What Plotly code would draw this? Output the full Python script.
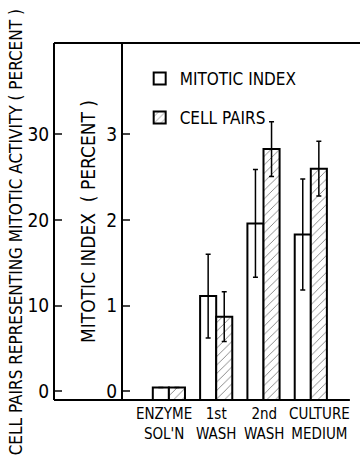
import plotly.graph_objects as go

categories = ["ENZYME SOL'N", "1st WASH", "2nd WASH", "CULTURE MEDIUM"]
label_line1 = ["ENZYME", "1st", "2nd", "CULTURE"]
label_line2 = ["SOL'N", "WASH", "WASH", "MEDIUM"]
mitotic_index = [0.04, 1.11, 1.96, 1.83]          # percent
mitotic_err = [None, 0.49, 0.63, 0.65]
cell_pairs = [0.4, 8.7, 28.3, 26.0]               # percent
cell_pairs_err = [None, 2.9, 3.2, 3.2]
mi_ticks = [0, 1, 2, 3]
cp_ticks = [0, 10, 20, 30]

FONT = "Liberation Sans Narrow, DejaVu Sans Condensed, Arial Narrow, sans-serif"
Y_MIN, Y_MAX = -0.105, 4.07
BAR_W = 0.34
LABEL_NUDGE = {"ENZYME SOL'N": -5, "CULTURE MEDIUM": 9}   # px, label styling only

fig = go.Figure()
fig.add_trace(go.Bar(
    x=categories, y=[v - Y_MIN for v in mitotic_index], base=Y_MIN,
    width=BAR_W, offset=-BAR_W, name="MITOTIC INDEX", legendgroup="a",
    marker=dict(color="white", line=dict(color="black", width=2)),
    error_y=dict(type="data", array=mitotic_err, color="black", thickness=1.5, width=2.5),
    yaxis="y",
))
fig.add_trace(go.Bar(
    x=categories, y=[v - Y_MIN * 10 for v in cell_pairs], base=Y_MIN * 10,
    width=BAR_W, offset=0, name="CELL PAIRS", legendgroup="b",
    marker=dict(color="white", line=dict(color="black", width=2),
                pattern=dict(shape="/", fgcolor="black", bgcolor="white", size=6, solidity=0.15)),
    error_y=dict(type="data", array=cell_pairs_err, color="black", thickness=1.5, width=2.5),
    yaxis="y2",
))

for c, t1, t2 in zip(categories, label_line1, label_line2):
    fig.add_annotation(x=c, xref="x", y=0, yref="paper", yshift=-3, xshift=LABEL_NUDGE.get(c, 0),
                       text=f"{t1}<br>{t2}", showarrow=False, yanchor="top",
                       font=dict(family=FONT, size=15, color="black"))

# outer axis title
fig.add_annotation(x=-0.163, xref="paper", y=0.47, yref="paper", textangle=-90,
                   text="CELL PAIRS REPRESENTING MITOTIC ACTIVITY ( PERCENT )",
                   showarrow=False, font=dict(family=FONT, size=17, color="black"))

# frame lines
fig.add_shape(type="line", xref="paper", yref="paper", x0=0, x1=1, y0=1, y1=1,
              line=dict(color="black", width=2))
fig.add_shape(type="line", xref="paper", yref="paper", x0=0, x1=0.967, y0=0, y1=0,
              line=dict(color="black", width=2))

fig.update_layout(
    width=360, height=467,
    margin=dict(l=54, r=0, t=43, b=67, autoexpand=False),
    paper_bgcolor="white", plot_bgcolor="white",
    font=dict(family=FONT, size=17, color="black"),
    barmode="overlay",
    showlegend=True,
    legend=dict(x=0.28, y=0.95, xanchor="left", yanchor="top", tracegroupgap=14,
                font=dict(family=FONT, size=17), bgcolor="rgba(0,0,0,0)"),
    xaxis=dict(domain=[0.2255, 1], type="category", categoryarray=categories,
               range=[-0.97, 4.04], showticklabels=False,
               showline=False, ticks="", showgrid=False, zeroline=False,
               automargin=False),
    yaxis=dict(range=[Y_MIN, Y_MAX], tickvals=mi_ticks, ticks="inside", ticklen=7, tickwidth=1.5,
               showline=True, linewidth=2, linecolor="black", showgrid=False, zeroline=False,
               automargin=False, tickfont=dict(family=FONT, size=19),
               title=dict(text="MITOTIC INDEX  ( PERCENT )", standoff=6,
                          font=dict(family=FONT, size=19))),
    yaxis2=dict(range=[Y_MIN * 10, Y_MAX * 10], tickvals=cp_ticks, overlaying="y", anchor="free",
                position=0, side="left", ticks="inside", ticklen=7, tickwidth=1.5,
                showline=True, linewidth=2, linecolor="black", showgrid=False, zeroline=False,
                automargin=False, tickfont=dict(family=FONT, size=19)),
)

fig.write_html("out.html")
